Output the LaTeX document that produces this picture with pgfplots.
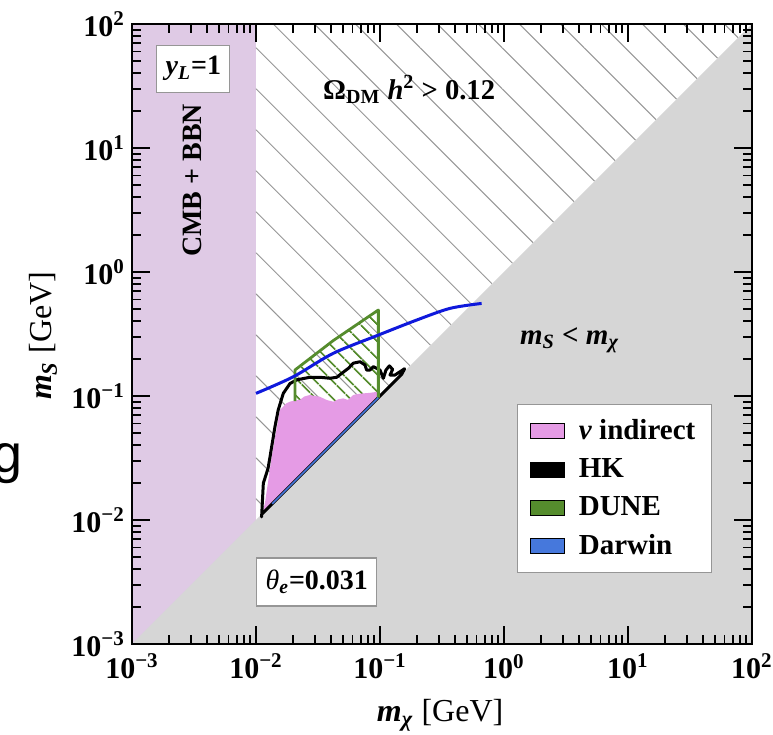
\documentclass[border=0pt]{standalone}
\usepackage{fontspec}
\setmainfont{Liberation Serif}
\newfontfamily\sansg{Liberation Sans}
\usepackage{pgfplots}
\pgfplotsset{compat=1.18}
\usetikzlibrary{patterns.meta}
\definecolor{lilac}{RGB}{223,202,229}
\definecolor{greyreg}{RGB}{214,214,214}
\definecolor{pinkc}{RGB}{229,155,229}
\definecolor{greenc}{RGB}{85,140,45}
\definecolor{bluec}{RGB}{15,25,220}
\definecolor{darwinc}{RGB}{70,120,220}
\definecolor{hatchc}{RGB}{150,150,150}
\newcommand{\tl}[1]{\textbf{10}\textsuperscript{\textbf{#1}}}
\begin{document}
\begin{tikzpicture}
\useasboundingbox (-66pt,-45.5pt) rectangle (320.5pt,322pt);
\node[anchor=base east, inner sep=0pt, font=\sansg\fontsize{27}{30}\selectfont] at (-54.5pt,85.5pt) {g};
\begin{axis}[
  at={(0pt,0pt)}, anchor=south west,
  scale only axis, width=310pt, height=310pt,
  xmode=log, ymode=log,
  xmin=1e-3, xmax=1e2, ymin=1e-3, ymax=1e2,
  axis on top,
  axis line style={line width=1.1pt},
  major tick length=9pt, minor tick length=4.5pt,
  every tick/.style={black, line width=0.9pt},
  tick align=inside,
  xtick={1e-3,1e-2,1e-1,1,10,100},
  ytick={1e-3,1e-2,1e-1,1,10,100},
  xticklabels={\tl{−3},\tl{−2},\tl{−1},\tl{0},\tl{1},\tl{2}},
  yticklabels={\tl{−3},\tl{−2},\tl{−1},\tl{0},\tl{1},\tl{2}},
  minor xtick={2e-3,3e-3,4e-3,5e-3,6e-3,7e-3,8e-3,9e-3,2e-2,3e-2,4e-2,5e-2,6e-2,7e-2,8e-2,9e-2,0.2,0.3,0.4,0.5,0.6,0.7,0.8,0.9,2,3,4,5,6,7,8,9,20,30,40,50,60,70,80,90},
  minor ytick={2e-3,3e-3,4e-3,5e-3,6e-3,7e-3,8e-3,9e-3,2e-2,3e-2,4e-2,5e-2,6e-2,7e-2,8e-2,9e-2,0.2,0.3,0.4,0.5,0.6,0.7,0.8,0.9,2,3,4,5,6,7,8,9,20,30,40,50,60,70,80,90},
  ticklabel style={font=\fontsize{15}{18}\selectfont},
  xticklabel style={yshift=-1.5pt},
  xlabel={\textbf{\textit{m}}\textsubscript{\textbf{\textit{χ}}} [GeV]},
  ylabel={\textbf{\textit{m}}\textsubscript{\textbf{\textit{S}}} [GeV]},
  xlabel style={at={(axis description cs:0.497,-0.1145)}, anchor=center, font=\fontsize{16}{19}\selectfont},
  ylabel style={at={(axis description cs:-0.143,0.497)}, anchor=center, rotate=0, font=\fontsize{16}{19}\selectfont},
  legend style={at={(rel axis cs:0.621,0.387)}, anchor=north west, draw=hatchc, fill=white, line width=0.6pt,
    font=\bfseries\fontsize{14.5}{16}\selectfont, row sep=4pt, inner xsep=6pt, inner ysep=5.5pt,
    /tikz/every odd column/.append style={column sep=5pt}},
  legend cell align=left,
  legend image code/.code={\fill[#1] (0pt,-3.75pt) rectangle (17pt,3.75pt);},
]
% CMB + BBN strip
\addplot[fill=lilac, draw=none, forget plot] coordinates {(1e-3,1e-3) (1e-2,1e-3) (1e-2,1e2) (1e-3,1e2)} -- cycle;
% relic-density hatched region
\addplot[pattern={Lines[angle=-45,distance=14.5pt,line width=0.5pt]}, pattern color=hatchc, draw=none, forget plot]
  coordinates {(1e-2,1e-2) (1e-2,1e2) (1e2,1e2)} -- cycle;
% m_S < m_chi
\addplot[fill=greyreg, draw=none, forget plot] coordinates {(1e-3,1e-3) (1e2,1e2) (1e2,1e-3)} -- cycle;
% DUNE hatch
\addplot[pattern={Lines[angle=-45,distance=6.5pt,line width=1.1pt]}, pattern color=greenc, draw=none, forget plot]
  coordinates {(0.0206,0.0206) (0.0206,0.162) (0.042,0.28) (0.097,0.494) (0.097,0.097)} -- cycle;
% nu indirect
\addplot[fill=pinkc, draw=none, forget plot] coordinates {
 (0.0111,0.0111) (0.0118,0.0136) (0.0134,0.0324) (0.0156,0.0771) (0.0175,0.087) (0.0188,0.090)
 (0.0205,0.092) (0.0226,0.093) (0.0245,0.099) (0.0272,0.102) (0.030,0.100) (0.0328,0.0986)
 (0.037,0.093) (0.042,0.090) (0.046,0.094) (0.0506,0.0957) (0.055,0.093) (0.061,0.102)
 (0.067,0.104) (0.0733,0.105) (0.083,0.106) (0.094,0.108) (0.097,0.097)} -- cycle;
% HK
\addplot[black, line width=1.5pt, line join=round, forget plot] coordinates {
 (0.0111,0.0106) (0.01146,0.0198) (0.0125,0.026) (0.01298,0.0324) (0.01422,0.0565) (0.0151,0.077)
 (0.0166,0.105) (0.0188,0.126) (0.0213,0.135) (0.0272,0.1416) (0.0328,0.1416) (0.0395,0.139)
 (0.0448,0.1416) (0.049,0.152) (0.0555,0.167) (0.061,0.184) (0.069,0.189) (0.0757,0.178)
 (0.078,0.162) (0.083,0.162) (0.0883,0.1726) (0.1,0.162) (0.1065,0.139) (0.1117,0.162)
 (0.119,0.175) (0.1265,0.164) (0.1205,0.1476) (0.132,0.1476) (0.145,0.157) (0.158,0.166)
 (0.15,0.15) (0.0111,0.0111)} -- cycle;
% DUNE outline
\addplot[greenc, line width=1.4pt, line join=round, forget plot] coordinates {
 (0.0206,0.091) (0.0206,0.162) (0.042,0.28) (0.097,0.494) (0.097,0.097)};
% relic curve
\addplot[bluec, line width=1.5pt, smooth, forget plot] coordinates {
 (0.01,0.105) (0.02,0.143) (0.042,0.221) (0.097,0.31) (0.198,0.41) (0.367,0.509) (0.66,0.558)};
% Darwin
\addplot[darwinc, line width=0.8pt, forget plot] coordinates {(0.0135,0.0135) (0.097,0.097)};
% legend
\addlegendimage{fill=pinkc}
\addlegendentry{\textit{ν} indirect}
\addlegendimage{fill=black}
\addlegendentry{HK}
\addlegendimage{fill=greenc}
\addlegendentry{DUNE}
\addlegendimage{fill=darwinc}
\addlegendentry{Darwin}
% texts
\node[rotate=90, font=\bfseries\fontsize{14}{16}\selectfont] at (rel axis cs:0.098,0.748) {CMB + BBN};
\node[draw=hatchc, fill=white, line width=0.6pt, minimum width=36.5pt, minimum height=23.5pt, inner sep=1pt,
  font=\bfseries\fontsize{14}{16}\selectfont] at (rel axis cs:0.099,0.928) {\textit{y}\textsubscript{\textit{L}}=1};
\node[draw=hatchc, fill=white, line width=0.6pt, minimum width=60pt, minimum height=24pt, inner sep=1pt,
  font=\bfseries\fontsize{14}{16}\selectfont] at (rel axis cs:0.298,0.100) {\textmd{\textit{θ}}\textsubscript{\textit{e}}=0.031};
\node[font=\bfseries\fontsize{14.3}{16}\selectfont] at (rel axis cs:0.447,0.894) {Ω\textsubscript{DM} \textit{h}\textsuperscript{2} > 0.12};
\node[font=\bfseries\fontsize{14.5}{16}\selectfont] at (rel axis cs:0.706,0.490) {\textit{m}\textsubscript{\textit{S}} < \textit{m}\textsubscript{\textit{χ}}};
\end{axis}
\end{tikzpicture}
\end{document}
